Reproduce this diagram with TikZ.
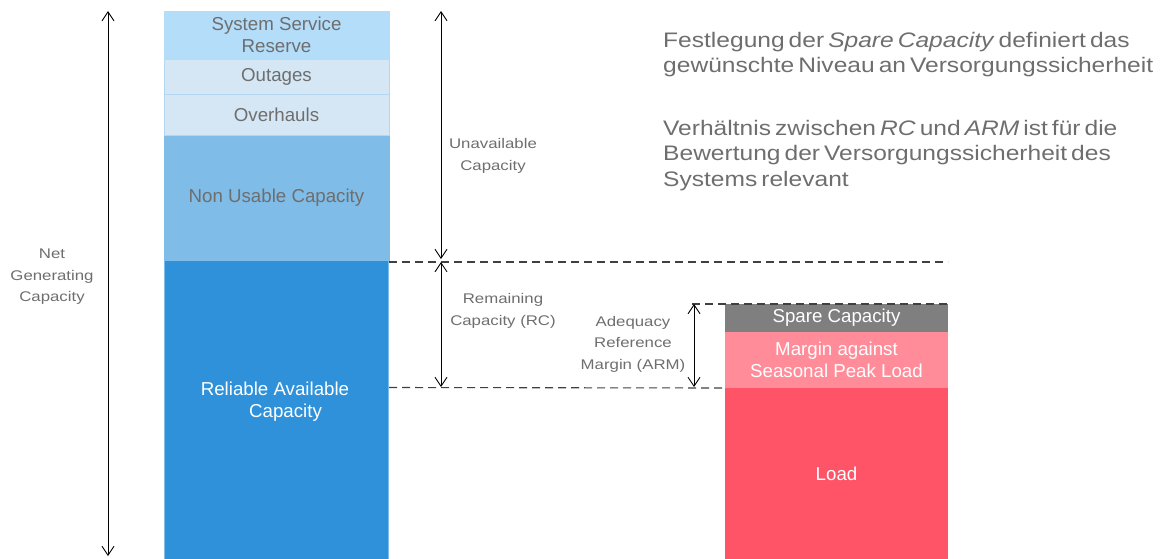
\documentclass[tikz,border=0pt]{standalone}
\usepackage{fontspec}
\setmainfont{Liberation Sans}
\newfontfamily\lblfont[FakeStretch=1.2]{Liberation Sans}
\newfontfamily\sidefont[FakeStretch=1.17]{Liberation Sans}
\newcommand\mysidesetup{\sidefont\fontsize{21}{25.3}\selectfont\spaceskip=4pt plus 1pt minus 1pt\relax}
\usetikzlibrary{arrows.meta}
\definecolor{txtgray}{HTML}{6E6E6E}
\definecolor{ssrc}{HTML}{B3DDF9}
\definecolor{outc}{HTML}{D5E7F5}
\definecolor{outb}{HTML}{B4D6F0}
\definecolor{nuc}{HTML}{7FBCE7}
\definecolor{rac}{HTML}{2E91D9}
\definecolor{spc}{HTML}{7F7F7F}
\definecolor{mgc}{HTML}{FF8C98}
\definecolor{ldc}{HTML}{FF5467}
\tikzset{
  blk/.style={anchor=north west, inner sep=0pt, outer sep=0pt, align=center,
    font=\fontsize{18.7}{22.5}\selectfont, text=txtgray, draw=outb, line width=0.8pt},
  wtxt/.style={text=white, font=\fontsize{18.7}{22.5}\selectfont, align=center},
  lbl/.style={text=txtgray, font=\lblfont\fontsize{14}{21.5}\selectfont, align=center, inner sep=0pt},
  dim/.style={draw=black, line width=0.9pt, {Straight Barb[length=9pt,width=12pt]}-{Straight Barb[length=9pt,width=12pt]}},
  dsh/.style={draw=black!75, line width=1.1pt, dash pattern=on 8pt off 5pt},
  side/.style={text=txtgray, font=\mysidesetup, align=left, anchor=north west, inner sep=0pt}
}
\begin{document}
\begin{tikzpicture}[x=1pt,y=-1pt]
\useasboundingbox (0,0) rectangle (1163,558);
% left column
\node[blk, fill=rac, draw=nuc, minimum width=224pt, minimum height=300pt] (ra) at (164.5,260) {};
\node[blk, fill=nuc, draw=nuc, minimum width=225pt, minimum height=125pt] (nu) at (164,135) {Non Usable Capacity};
\node[blk, fill=outc, minimum width=225pt, minimum height=41pt] (oh) at (164,94) {Overhauls};
\node[blk, fill=outc, minimum width=225pt, minimum height=35pt] (ou) at (164,59) {Outages};
\node[blk, fill=ssrc, draw=ssrc, minimum width=225pt, minimum height=48pt] (ssr) at (164,11) {System Service\\Reserve};
\node[wtxt] (ratext) at (275,401.5) {Reliable Available\\\hspace*{21pt}Capacity};
% right column
\node[blk, fill=ldc, draw=none, minimum width=223pt, minimum height=172pt] (ld) at (725,388) {};
\node[wtxt] (ldtext) at (ld.center) {Load};
\node[blk, fill=mgc, draw=none, minimum width=223pt, minimum height=56pt, text=white] (mg) at (725,332) {Margin against\\Seasonal Peak Load};
\node[blk, fill=spc, draw=none, minimum width=223pt, minimum height=28pt, text=white] (sp) at (725,304) {Spare Capacity};
% coordinates
\coordinate (ngT) at (108,11);
\coordinate (ngB) at (108,556);
\coordinate (uaT) at (441,11);
\coordinate (uaB) at (441,259);
\coordinate (rcT) at (441,262);
\coordinate (rcB) at (441,387);
\coordinate (armT) at (694,304);
\coordinate (armB) at (694,387);
\coordinate (d1a) at (389,262);
\coordinate (d1b) at (948,262);
\coordinate (d2a) at (389,387.5);
\coordinate (d3a) at (692,304);
% dashed lines
\draw[dsh] (d1a) -- (d1b);
\draw[dsh] (d2a) -- (ld.north west);
\draw[dsh] (d3a) -- (sp.north east);
% arrows
\draw[dim] (ngT) -- (ngB);
\draw[dim] (uaT) -- (uaB);
\draw[dim] (rcT) -- (rcB);
\draw[dim] (armT) -- (armB);
% labels
\node[lbl] (nglbl) at (52,277) {Net\\Generating\\Capacity};
\node[lbl] (ualbl) at (493,156) {Unavailable\\Capacity};
\node[lbl] (rclbl) at (503,311) {Remaining\\Capacity (RC)};
\node[lbl] (armlbl) at (633,344) {Adequacy\\Reference\\Margin (ARM)};
% side text
\node[side] (t1) at (663,32) {Festlegung der \textit{Spare Capacity} definiert das\\gewünschte Niveau an Versorgungssicherheit};
\node[side] (t2) at (663,120) {Verhältnis zwischen \textit{RC} und \textit{ARM} ist für die\\Bewertung der Versorgungssicherheit des\\Systems relevant};
\end{tikzpicture}
\end{document}
